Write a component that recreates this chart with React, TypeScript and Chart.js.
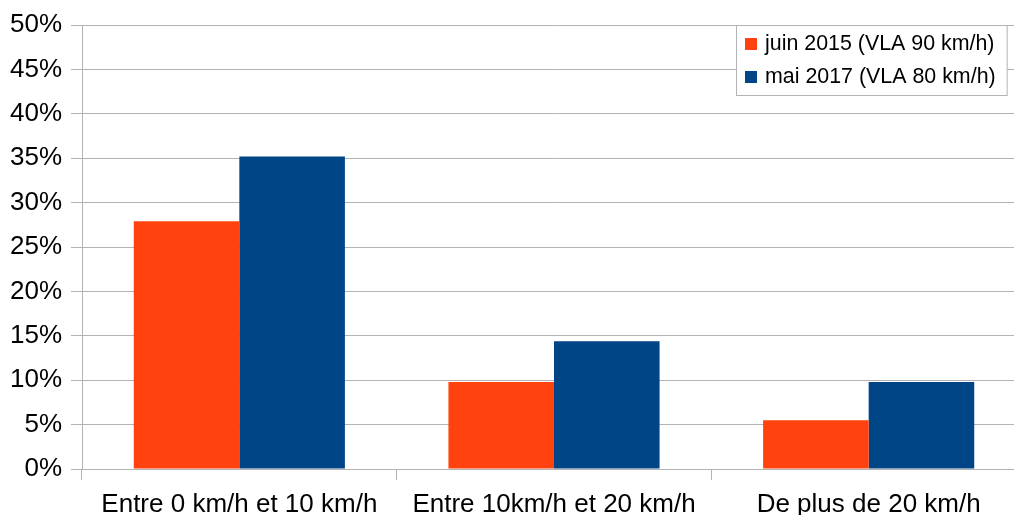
import React, { useEffect, useRef } from "react";
import { Chart, registerables } from "chart.js";

Chart.register(...registerables);

const categories = ["Entre 0 km/h et 10 km/h", "Entre 10km/h et 20 km/h", "De plus de 20 km/h"];
const seriesNames = ["juin 2015 (VLA 90 km/h)", "mai 2017 (VLA 80 km/h)"];
const juin2015 = [27.9, 9.8, 5.5];
const mai2017 = [35.2, 14.4, 9.8];
const yTicks = [0, 5, 10, 15, 20, 25, 30, 35, 40, 45, 50];

const ORANGE = "#ff420e";
const BLUE = "#004586";
const GRID = "#b3b3b3";
const FONT = "'Liberation Sans', Arial, sans-serif";

const legendPlugin = {
  id: "boxLegend",
  afterDraw(chart: any) {
    const ctx = chart.ctx;
    const area = chart.chartArea;
    ctx.save();
    ctx.font = `21.4px ${FONT}`;
    const ds = chart.data.datasets;
    let maxW = 0;
    ds.forEach((d: any) => {
      maxW = Math.max(maxW, ctx.measureText(d.label).width);
    });
    const boxW = 8 + 12 + 8 + maxW + 12;
    const boxH = 70;
    const right = 1007;
    const left = Math.round(right - boxW) + 0.5;
    const top = area.top + 0.5;
    ctx.fillStyle = "#ffffff";
    ctx.fillRect(left, top, boxW, boxH);
    ctx.strokeStyle = GRID;
    ctx.lineWidth = 1;
    ctx.strokeRect(left, top, boxW, boxH);
    ds.forEach((d: any, i: number) => {
      const y = area.top + 13 + i * 33;
      ctx.fillStyle = d.backgroundColor;
      ctx.fillRect(Math.round(left + 8), y, 12, 12);
      ctx.fillStyle = "#000000";
      ctx.textBaseline = "middle";
      ctx.textAlign = "left";
      ctx.fillText(d.label, Math.round(left + 28), y + 6.5);
    });
    ctx.restore();
  },
};

export default function App() {
  const ref = useRef<HTMLCanvasElement>(null);
  useEffect(() => {
    if (!ref.current) return;
    const chart = new Chart(ref.current, {
      type: "bar",
      data: {
        labels: categories,
        datasets: [
          { label: seriesNames[0], data: juin2015, backgroundColor: ORANGE, categoryPercentage: 0.671, barPercentage: 1 },
          { label: seriesNames[1], data: mai2017, backgroundColor: BLUE, categoryPercentage: 0.671, barPercentage: 1 },
        ],
      },
      options: {
        responsive: false,
        animation: false,
        devicePixelRatio: 1,
        layout: { padding: { top: 25, left: 0, right: 0, bottom: 0 } },
        plugins: { legend: { display: false }, tooltip: { enabled: false } },
        scales: {
          x: {
            offset: true,
            grid: { display: true, drawOnChartArea: false, drawTicks: true, tickLength: 11, color: GRID, offset: true },
            border: { display: true, color: GRID },
            ticks: { color: "#000", font: { family: FONT, size: 26 }, padding: 9, maxRotation: 0, autoSkip: false },
            afterFit: (s: any) => { s.height = 46; },
          },
          y: {
            min: 0,
            max: 50,
            afterBuildTicks: (s: any) => { s.ticks = yTicks.map((v) => ({ value: v })); },
            grid: { color: GRID, tickLength: 11, drawTicks: true },
            border: { display: true, color: GRID },
            ticks: {
              color: "#000",
              font: { family: FONT, size: 26 },
              padding: 9,
              callback: (v: any) => `${v}%`,
            },
            afterFit: (s: any) => { s.width = 82; },
          },
        },
      },
      plugins: [legendPlugin],
    });
    return () => chart.destroy();
  }, []);
  return (
    <div style={{ position: "fixed", left: 0, top: 0, width: 1014, height: 515, overflow: "hidden", background: "#fff" }}>
      <canvas ref={ref} width={1026} height={515} style={{ display: "block" }} />
    </div>
  );
}
